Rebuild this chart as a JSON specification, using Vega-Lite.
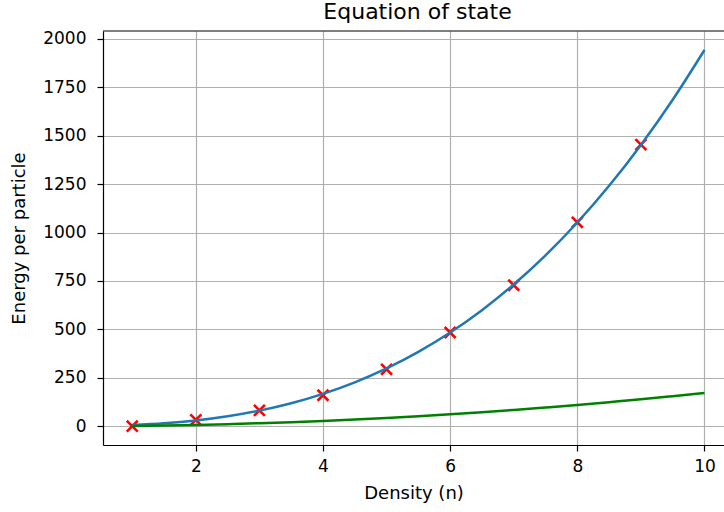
{
  "$schema": "https://vega.github.io/schema/vega-lite/v6.json",
  "width": 621,
  "height": 414,
  "autosize": {"type": "none"},
  "padding": {"left": 103, "top": 31, "right": 0, "bottom": 67},
  "background": "white",
  "view": {"stroke": null},
  "config": {
    "font": "DejaVu Sans",
    "axis": {
      "domainColor": "black", "domainWidth": 1.2,
      "tickColor": "black", "tickSize": 6, "tickWidth": 1.2,
      "labelFont": "DejaVu Sans", "labelFontSize": 17, "labelColor": "black",
      "titleFont": "DejaVu Sans", "titleFontSize": 18, "titleFontWeight": "normal", "titleColor": "black",
      "gridColor": "#b0b0b0", "gridWidth": 1.2, "gridOpacity": 1
    }
  },
  "title": {"text": "Equation of state", "font": "DejaVu Sans", "fontSize": 22, "fontWeight": "normal", "color": "black", "anchor": "middle", "baseline": "alphabetic", "offset": -11, "dx": 4},
  "datasets": {
    "fit": [
      {"n": 1, "E": 6}, {"n": 1.5, "E": 15.1}, {"n": 2, "E": 29.8}, {"n": 2.5, "E": 51.3},
      {"n": 3, "E": 80.6}, {"n": 3.5, "E": 118.8}, {"n": 4, "E": 167.2}, {"n": 4.5, "E": 226.7},
      {"n": 5, "E": 298.6}, {"n": 5.5, "E": 384.0}, {"n": 6, "E": 484.0}, {"n": 6.5, "E": 599.5},
      {"n": 7, "E": 732.0}, {"n": 7.5, "E": 882.4}, {"n": 8, "E": 1051.9}, {"n": 8.5, "E": 1241.5},
      {"n": 9, "E": 1452.6}, {"n": 9.5, "E": 1686.0}, {"n": 10, "E": 1943}
    ],
    "green": [
      {"n": 1, "E": 1.7}, {"n": 1.5, "E": 3.9}, {"n": 2, "E": 6.9}, {"n": 2.5, "E": 10.8},
      {"n": 3, "E": 15.5}, {"n": 3.5, "E": 21.1}, {"n": 4, "E": 27.5}, {"n": 4.5, "E": 34.8},
      {"n": 5, "E": 43}, {"n": 5.5, "E": 52}, {"n": 6, "E": 62}, {"n": 6.5, "E": 72.7},
      {"n": 7, "E": 84}, {"n": 7.5, "E": 96.8}, {"n": 8, "E": 110}, {"n": 8.5, "E": 124.3},
      {"n": 9, "E": 139}, {"n": 9.5, "E": 155.2}, {"n": 10, "E": 172}
    ],
    "pts": [
      {"n": 1, "E": 0}, {"n": 2, "E": 33}, {"n": 3, "E": 82}, {"n": 4, "E": 160},
      {"n": 5, "E": 294}, {"n": 6, "E": 484}, {"n": 7, "E": 728}, {"n": 8, "E": 1053}, {"n": 9, "E": 1454}
    ],
    "border": [{"E": 2041}]
  },
  "layer": [
    {
      "data": {"name": "pts"},
      "mark": {"type": "point", "shape": "M-1,-1L1,1M-1,1L1,-1", "size": 120, "filled": false, "stroke": "#ff0000", "strokeWidth": 2.6, "opacity": 1},
      "encoding": {
        "x": {"field": "n", "type": "quantitative", "scale": {"domain": [0.54, 10.307], "nice": false, "zero": false},
              "axis": {"title": "Density (n)", "values": [2, 4, 6, 8, 10], "format": "d", "labelPadding": 7, "titlePadding": 10}},
        "y": {"field": "E", "type": "quantitative", "scale": {"domain": [-97, 2041], "nice": false, "zero": false},
              "axis": {"title": "Energy per particle", "values": [0, 250, 500, 750, 1000, 1250, 1500, 1750, 2000], "format": "d", "labelPadding": 11, "titlePadding": 14}}
      }
    },
    {
      "data": {"name": "fit"},
      "mark": {"type": "line", "color": "#1f77b4", "strokeWidth": 2.5, "interpolate": "monotone"},
      "encoding": {
        "x": {"field": "n", "type": "quantitative"},
        "y": {"field": "E", "type": "quantitative"}
      }
    },
    {
      "data": {"name": "green"},
      "mark": {"type": "line", "color": "#008000", "strokeWidth": 2.5, "interpolate": "monotone"},
      "encoding": {
        "x": {"field": "n", "type": "quantitative"},
        "y": {"field": "E", "type": "quantitative"}
      }
    },
    {
      "data": {"name": "border"},
      "mark": {"type": "rule", "color": "black", "strokeWidth": 1.2},
      "encoding": {
        "y": {"field": "E", "type": "quantitative"}
      }
    }
  ]
}
